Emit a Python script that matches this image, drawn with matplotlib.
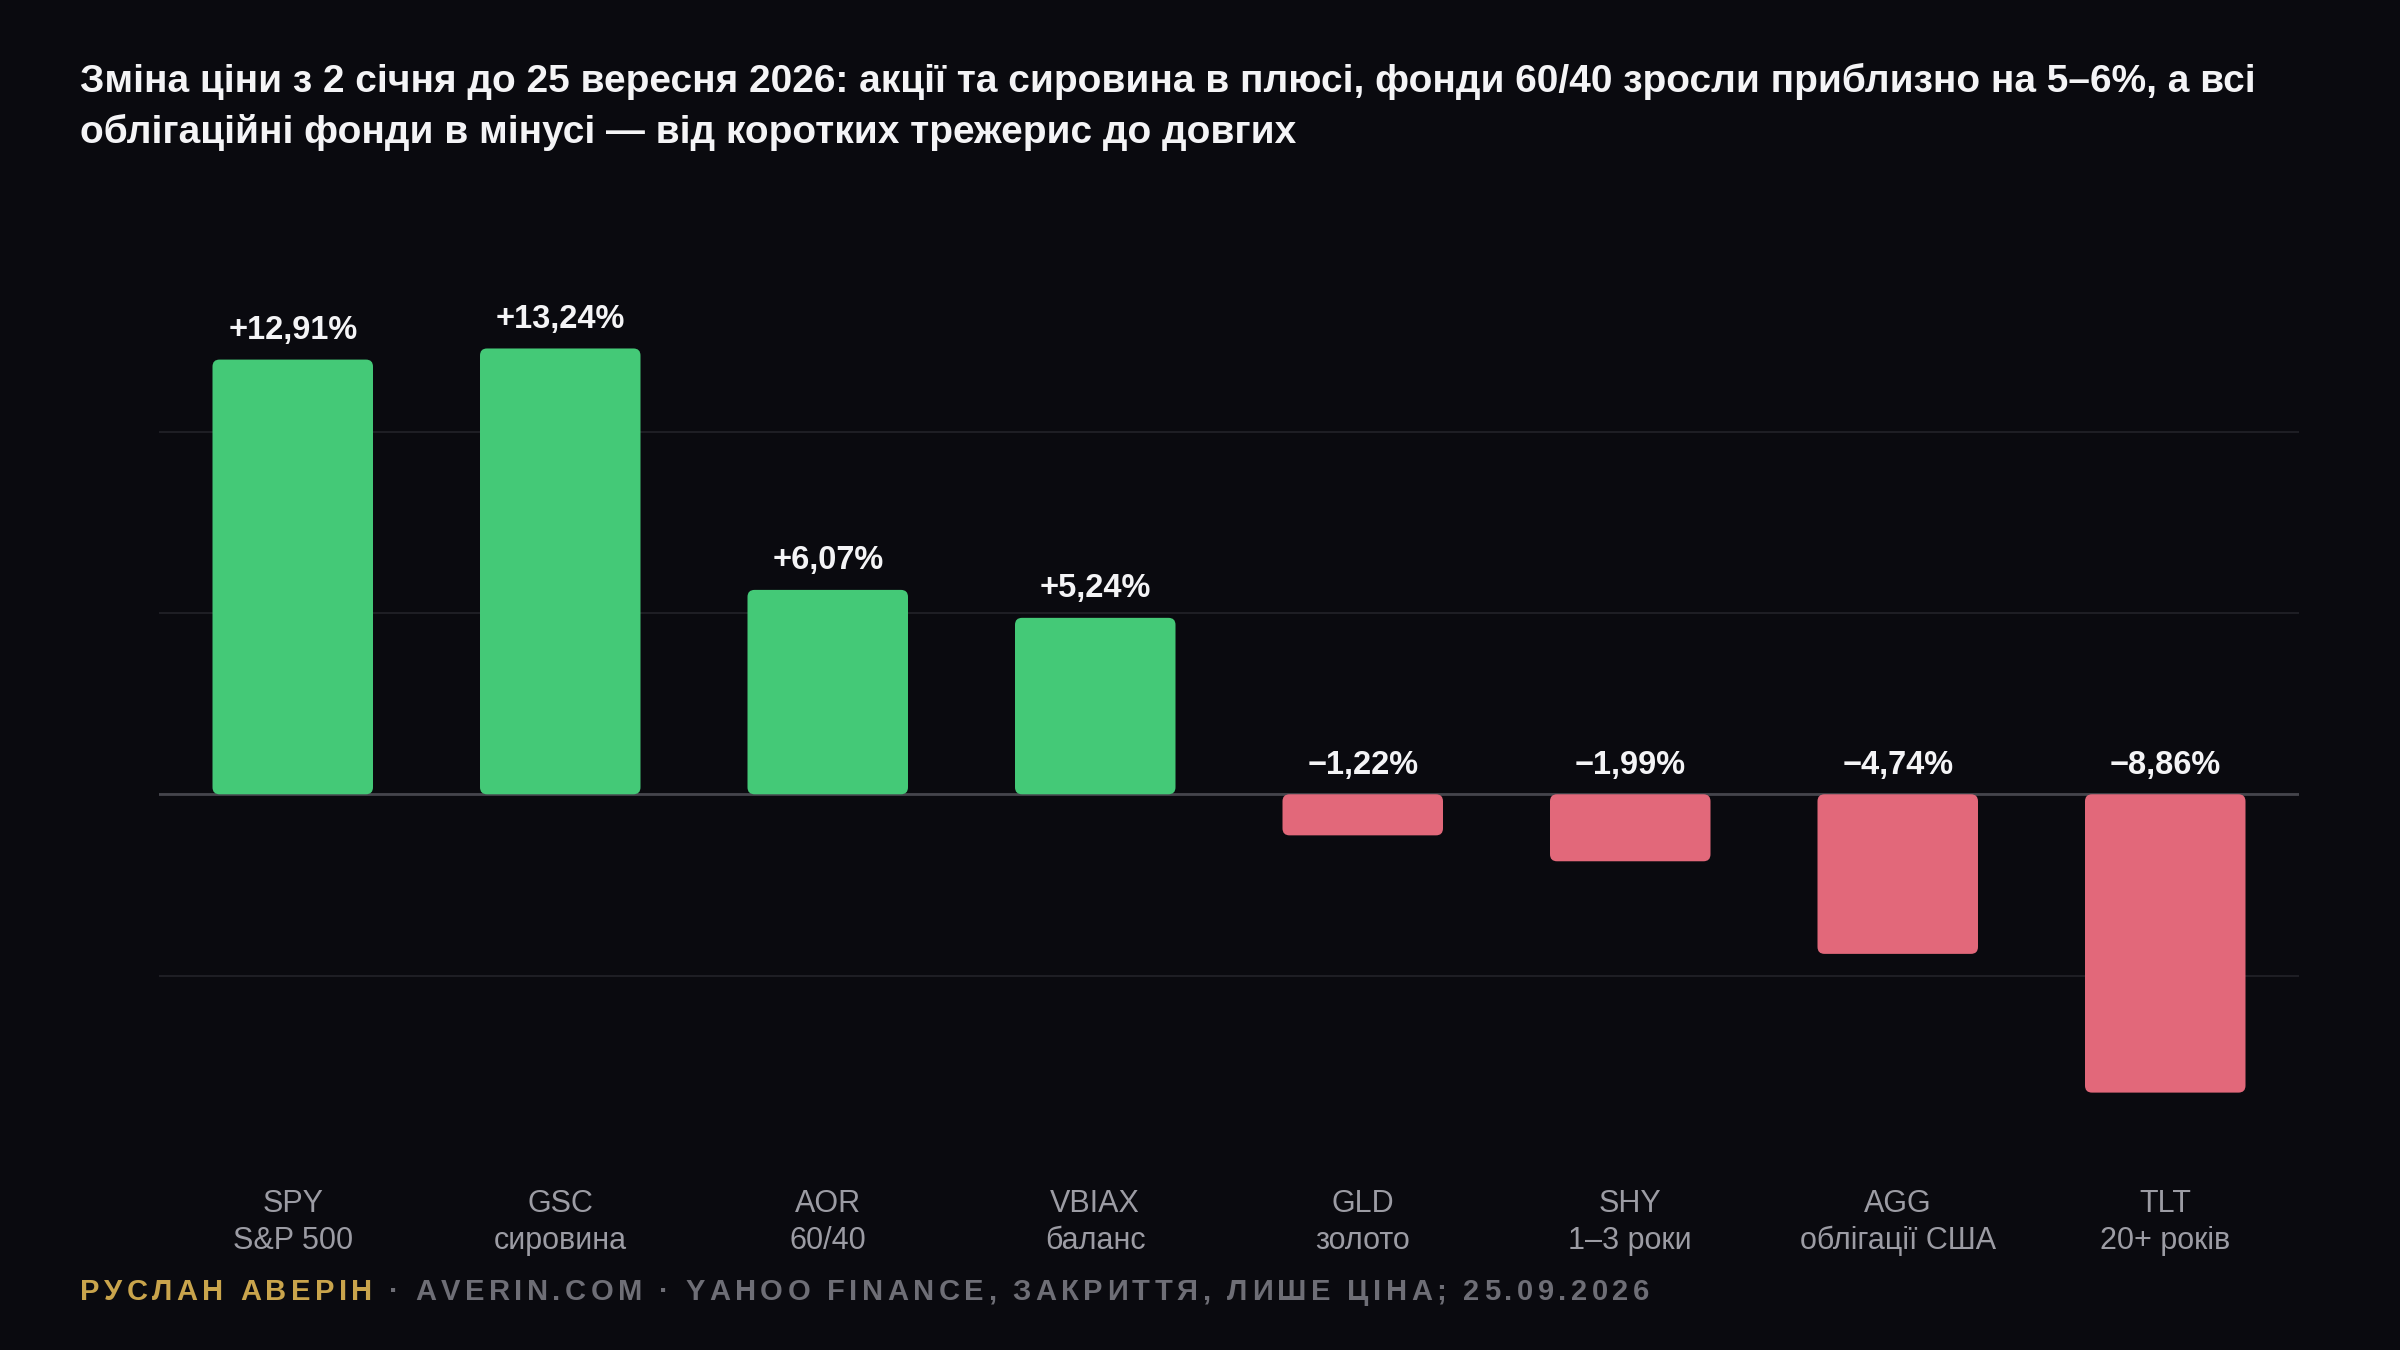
import matplotlib
matplotlib.use('Agg')
import matplotlib.pyplot as plt
import matplotlib.transforms as mtransforms
from matplotlib.patches import FancyBboxPatch

# Data
tickers = ['SPY', 'GSC', 'AOR', 'VBIAX', 'GLD', 'SHY', 'AGG', 'TLT']
names = ['S&P 500', 'сировина', '60/40', 'баланс', 'золото', '1–3 роки', 'облігації США', '20+ років']
changes = [12.91, 13.24, 6.07, 5.24, -1.22, -1.99, -4.74, -8.86]
grid_ticks = [-5.4, 0, 5.38, 10.77]

title_lines = ['Зміна ціни з 2 січня до 25 вересня 2026: акції та сировина в плюсі, фонди 60/40 зросли приблизно на 5–6%, а всі',
               'облігаційні фонди в мінусі — від коротких трежерис до довгих']
footer_author = 'РУСЛАН АВЕРІН'
footer_rest = ' · AVERIN.COM · YAHOO FINANCE, ЗАКРИТТЯ, ЛИШЕ ЦІНА; 25.09.2026'

BG = '#0a0a0f'
GREEN = '#44c977'
RED = '#e2687a'
GRID = '#1e1e24'
ZERO = '#45454c'
TEXT = '#f4f4f6'
MUTED = '#9c9ca4'
GOLD = '#c9a44c'
FOOT = '#6e6e76'

plt.rcParams['font.family'] = ['Liberation Sans', 'DejaVu Sans']

fig = plt.figure(figsize=(24, 13.5), dpi=100, facecolor=BG)
ax = fig.add_axes([159 / 2400, 168.5 / 1350, 2140 / 2400, 963 / 1350])
ax.set_facecolor(BG)
ax.set_xlim(-0.5, len(tickers) - 0.5)
ax.set_ylim(-11.5, 17.1)

for s in ax.spines.values():
    s.set_visible(False)
ax.set_xticks([])
ax.set_yticks(grid_ticks)
ax.tick_params(left=False, labelleft=False)
ax.grid(axis='y', color=GRID, linewidth=1.5)
ax.set_axisbelow(True)
ax.axhline(0, color=ZERO, linewidth=2, zorder=1)

# rounded bars, rounding corrected for the axes aspect
bars = ax.bar(range(len(tickers)), changes, width=0.6, color='none')
x_px = ax.transData.transform((1, 0))[0] - ax.transData.transform((0, 0))[0]
y_px = ax.transData.transform((0, 1))[1] - ax.transData.transform((0, 0))[1]
aspect = x_px / y_px
r = 7 / x_px
for b, v in zip(bars, changes):
    x0, y0 = b.get_x(), b.get_y()
    w, h = b.get_width(), b.get_height()
    if h < 0:
        y0, h = y0 + h, -h
    patch = FancyBboxPatch((x0, y0), w, h,
                           boxstyle='round,pad=0,rounding_size=%f' % r,
                           mutation_aspect=aspect,
                           facecolor=GREEN if v >= 0 else RED,
                           edgecolor='none', zorder=2)
    ax.add_patch(patch)
    b.remove()

# value labels
for i, v in enumerate(changes):
    sign = '+' if v >= 0 else '−'
    txt = sign + ('%.2f' % abs(v)).replace('.', ',') + '%'
    ax.annotate(txt, (i, max(v, 0)), xytext=(0, 21), textcoords='offset points',
                ha='center', va='center', fontsize=23.5, fontweight='bold', color=TEXT)

# category labels
trans = mtransforms.blended_transform_factory(ax.transData, fig.transFigure)
for i, (t, n) in enumerate(zip(tickers, names)):
    ax.text(i, 1 - 1204 / 1350, t, transform=trans, ha='center', va='center',
            fontsize=22, color=MUTED)
    ax.text(i, 1 - 1241 / 1350, n, transform=trans, ha='center', va='center',
            fontsize=22, color=MUTED)

for k, line in enumerate(title_lines):
    fig.text(80 / 2400, 1 - (81 + 51 * k) / 1350, line, ha='left', va='center',
             fontsize=28, fontweight='bold', color=TEXT)

# footer with letter spacing
renderer = fig.canvas.get_renderer()
x = 80
y = 1350 - 1292
fsize = 21
tracking = 4.4
for part, col in [(footer_author, GOLD), (footer_rest, FOOT)]:
    for ch in part:
        t = fig.text(x / 2400, y / 1350, ch, ha='left', va='center', fontsize=fsize,
                     fontweight='bold', color=col)
        w = t.get_window_extent(renderer).width
        if ch == ' ':
            w = fsize * 100 / 72 * 0.278
        x += w + tracking

fig.savefig('out.png', dpi=100, facecolor=BG)
